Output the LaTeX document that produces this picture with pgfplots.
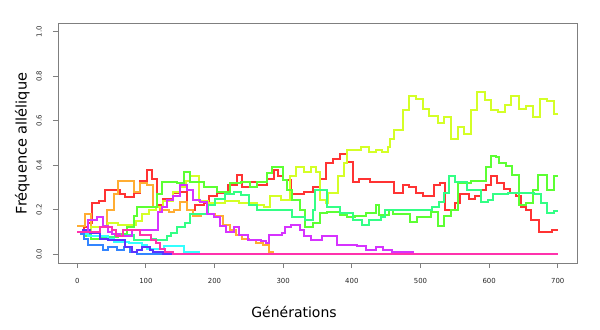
\documentclass[border=0pt]{standalone}
\usepackage{fontspec}
\setmainfont{DejaVu Sans}
\usepackage{pgfplots}
\pgfplotsset{compat=1.18}
\definecolor{r1}{HTML}{FF0000}
\definecolor{r2}{HTML}{FF9900}
\definecolor{r3}{HTML}{CCFF00}
\definecolor{r4}{HTML}{33FF00}
\definecolor{r5}{HTML}{00FF66}
\definecolor{r6}{HTML}{00FFFF}
\definecolor{r7}{HTML}{0066FF}
\definecolor{r8}{HTML}{3300FF}
\definecolor{r9}{HTML}{CC00FF}
\definecolor{r10}{HTML}{FF0099}
\colorlet{c1}{r1!80!white}
\colorlet{c2}{r2!80!white}
\colorlet{c3}{r3!85!white}
\colorlet{c4}{r4!80!white}
\colorlet{c5}{r5!80!white}
\colorlet{c6}{r6!80!white}
\colorlet{c7}{r7!80!white}
\colorlet{c8}{r8!80!white}
\colorlet{c9}{r9!80!white}
\colorlet{c10}{r10!80!white}
\definecolor{axgray}{HTML}{7F7F7F}
\begin{document}
\begin{tikzpicture}
\useasboundingbox (0,0) rectangle (450pt,246.75pt);
\begin{axis}[
  at={(43.5pt,49.5pt)}, anchor=south west,
  scale only axis, width=389.25pt, height=180pt,
  xmin=-28, xmax=728, ymin=-0.04, ymax=1.04,
  axis line style={axgray, line width=0.6pt},
  xtick={0,100,...,700}, ytick={0,0.2,...,1.0},
  xtick pos=bottom, ytick pos=left,
  tick align=outside, major tick length=3.75pt,
  tick style={axgray, line width=0.6pt},
  /pgf/number format/assume math mode=true,
  ticklabel style={font=\fontsize{5.2}{6}\selectfont, text=black!85, inner sep=0pt},
  xticklabel style={anchor=center},
  yticklabel style={anchor=center, rotate=90},
  xticklabel shift=9.5pt,
  yticklabel shift=10.5pt,
  yticklabel={\pgfmathprintnumber[fixed,fixed zerofill,precision=1]{\tick}},
  scaled y ticks=false,
  clip=true,
  every axis plot/.append style={const plot, line width=1.5pt},
]
% red
\addplot[c1] coordinates {(0,0.10)(10,0.12)(15,0.14)(22,0.23)(31,0.24)(41,0.29)(63,0.27)(70,0.255)(82,0.275)(92,0.33)(102,0.38)(109,0.34)(116,0.22)(125,0.25)(140,0.275)(150,0.28)(160,0.20)(172,0.22)(184,0.23)(192,0.26)(204,0.275)(220,0.31)(233,0.355)(240,0.30)(252,0.325)(262,0.31)(277,0.34)(286,0.38)(293,0.35)(300,0.335)(311,0.27)(330,0.28)(344,0.30)(354,0.34)(362,0.41)(373,0.43)(383,0.45)(393,0.415)(401,0.325)(410,0.34)(427,0.325)(452,0.325)(461,0.275)(474,0.31)(483,0.30)(493,0.275)(503,0.26)(519,0.31)(528,0.32)(536,0.20)(551,0.23)(558,0.27)(570,0.25)(580,0.26)(588,0.29)(595,0.31)(602,0.35)(612,0.32)(622,0.295)(631,0.275)(639,0.26)(646,0.21)(653,0.20)(661,0.155)(673,0.10)(692,0.11)(700,0.11)};
% orange
\addplot[c2] coordinates {(0,0.125)(12,0.18)(20,0.12)(30,0.12)(43,0.20)(53,0.27)(60,0.33)(82,0.28)(92,0.32)(102,0.31)(111,0.21)(121,0.20)(133,0.19)(141,0.20)(150,0.235)(160,0.20)(168,0.17)(180,0.18)(200,0.17)(212,0.13)(222,0.11)(232,0.085)(240,0.07)(250,0.065)(260,0.05)(270,0.04)(279,0.01)(285,0)(700,0)};
% yellow
\addplot[c3] coordinates {(0,0.10)(10,0.11)(20,0.12)(45,0.14)(60,0.13)(85,0.15)(95,0.18)(105,0.20)(115,0.21)(125,0.24)(140,0.28)(150,0.30)(158,0.33)(165,0.35)(178,0.24)(190,0.23)(215,0.24)(235,0.23)(262,0.22)(272,0.21)(281,0.26)(297,0.245)(310,0.35)(318,0.39)(330,0.37)(340,0.39)(348,0.37)(354,0.245)(362,0.23)(366,0.275)(380,0.35)(388,0.41)(393,0.47)(413,0.48)(425,0.46)(435,0.47)(444,0.46)(452,0.48)(456,0.52)(462,0.56)(474,0.65)(484,0.71)(494,0.70)(503,0.655)(513,0.62)(525,0.59)(534,0.615)(544,0.52)(554,0.57)(563,0.54)(573,0.65)(583,0.73)(594,0.695)(602,0.65)(613,0.64)(623,0.67)(632,0.71)(643,0.655)(653,0.665)(664,0.615)(674,0.70)(684,0.69)(694,0.63)(700,0.63)};
% green
\addplot[c4] coordinates {(0,0.10)(10,0.08)(20,0.07)(45,0.075)(60,0.09)(73,0.12)(82,0.17)(87,0.21)(102,0.21)(116,0.27)(124,0.325)(146,0.32)(155,0.37)(165,0.325)(184,0.30)(204,0.28)(223,0.32)(238,0.325)(252,0.30)(262,0.325)(277,0.365)(284,0.39)(293,0.39)(300,0.335)(306,0.29)(313,0.245)(325,0.20)(332,0.12)(344,0.14)(354,0.185)(364,0.19)(383,0.175)(393,0.165)(405,0.17)(420,0.185)(435,0.22)(439,0.175)(454,0.20)(460,0.18)(475,0.18)(485,0.145)(495,0.165)(515,0.19)(525,0.125)(534,0.17)(544,0.20)(554,0.32)(573,0.33)(595,0.39)(602,0.44)(610,0.435)(614,0.41)(624,0.395)(634,0.355)(643,0.22)(653,0.23)(664,0.29)(671,0.355)(685,0.29)(694,0.35)(700,0.35)};
% spring green
\addplot[c5] coordinates {(0,0.10)(10,0.09)(20,0.08)(35,0.075)(55,0.08)(70,0.085)(82,0.065)(107,0.07)(115,0.065)(131,0.08)(136,0.095)(146,0.12)(157,0.14)(165,0.18)(184,0.18)(191,0.22)(200,0.25)(215,0.27)(228,0.28)(238,0.265)(250,0.22)(262,0.20)(303,0.20)(313,0.165)(332,0.155)(344,0.20)(347,0.29)(364,0.21)(383,0.185)(401,0.155)(415,0.13)(425,0.155)(442,0.165)(449,0.20)(475,0.20)(500,0.20)(517,0.21)(527,0.235)(534,0.275)(541,0.35)(551,0.325)(568,0.29)(588,0.235)(598,0.245)(605,0.27)(627,0.275)(651,0.275)(665,0.27)(675,0.23)(685,0.185)(694,0.195)(700,0.195)};
% cyan
\addplot[c6] coordinates {(0,0.10)(8,0.09)(15,0.08)(35,0.08)(45,0.07)(53,0.055)(75,0.05)(95,0.04)(102,0.025)(126,0.035)(155,0.01)(177,0)(700,0)};
% blue
\addplot[c7] coordinates {(0,0.10)(5,0.09)(10,0.07)(16,0.04)(38,0.02)(45,0.03)(58,0.02)(68,0.03)(77,0.01)(87,0)(700,0)};
% blue-violet
\addplot[c8] coordinates {(0,0.10)(8,0.11)(19,0.095)(33,0.07)(45,0.065)(60,0.065)(70,0.03)(80,0.01)(87,0.02)(95,0.03)(106,0.02)(111,0.01)(125,0)(700,0)};
% violet
\addplot[c9] coordinates {(0,0.10)(16,0.155)(29,0.165)(38,0.125)(45,0.10)(50,0.09)(63,0.08)(80,0.11)(109,0.11)(118,0.19)(124,0.21)(131,0.245)(140,0.26)(150,0.31)(160,0.29)(169,0.245)(179,0.235)(189,0.18)(199,0.165)(208,0.125)(216,0.10)(228,0.12)(235,0.085)(249,0.065)(267,0.06)(275,0.05)(279,0.085)(299,0.095)(303,0.12)(311,0.13)(325,0.11)(330,0.08)(340,0.065)(357,0.08)(379,0.04)(408,0.038)(420,0.02)(435,0.03)(446,0.02)(459,0.01)(489,0)(700,0)};
% pink
\addplot[c10] coordinates {(0,0.10)(33,0.12)(51,0.11)(57,0.08)(66,0.11)(92,0.085)(107,0.065)(115,0.05)(120,0.025)(128,0.01)(140,0)(700,0)};
\end{axis}
\node[anchor=base, font=\fontsize{10.5}{12}\selectfont] at (220.5pt,8.5pt) {Générations};
\node[anchor=base, rotate=90, font=\fontsize{10.9}{12}\selectfont] at (19.9pt,139.1pt) {Fréquence allélique};
\end{tikzpicture}
\end{document}
